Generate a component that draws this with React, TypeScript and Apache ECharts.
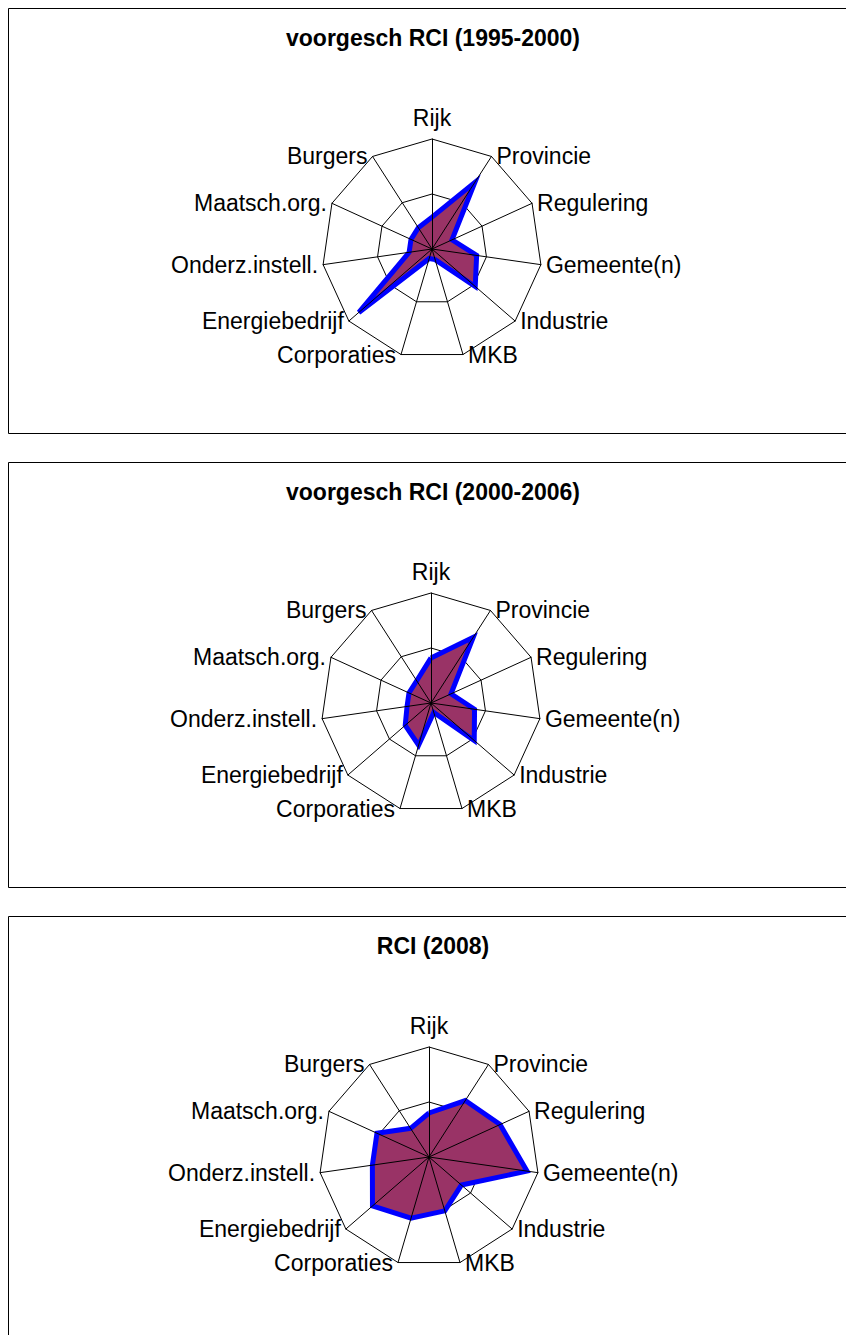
import React, { useEffect, useRef } from "react";
import * as echarts from "echarts";

// ---- data ----
const categories = [
  "Rijk",
  "Provincie",
  "Regulering",
  "Gemeente(n)",
  "Industrie",
  "MKB",
  "Corporaties",
  "Energiebedrijf",
  "Onderz.instell.",
  "Maatsch.org.",
  "Burgers",
];
const titles = ["voorgesch RCI (1995-2000)", "voorgesch RCI (2000-2006)", "RCI (2008)"];
const values1995 = [0.29, 0.72, 0.2, 0.41, 0.52, 0.1, 0.09, 0.88, 0.21, 0.21, 0.23];
const values2000 = [0.41, 0.71, 0.2, 0.4, 0.52, 0.09, 0.4, 0.31, 0.22, 0.22, 0.24];
const values2008 = [0.4, 0.61, 0.71, 0.9, 0.39, 0.51, 0.58, 0.68, 0.52, 0.52, 0.31];
const axisMax = 1;
const seriesValues = [values1995, values2000, values2008];

// ---- layout ----
const FONT = "'Liberation Sans', Arial, sans-serif";
const panelTops = [8, 462, 916];
const panelHeight = 425;
const centersX = [432, 431, 429];
const centerOffsetY = 241;
const titleOffsetY = 30;
const R = 110;

// ECharts places indicators counter-clockwise; reverse so they run clockwise
const reorder = <T,>(arr: T[]): T[] => [arr[0], ...arr.slice(1).reverse()];

export default function App() {
  const ref = useRef<HTMLDivElement>(null);
  useEffect(() => {
    if (!ref.current) return;
    const chart = echarts.init(ref.current, undefined, { renderer: "svg" });
    const indicator = reorder(categories).map((name) => ({ name, min: 0, max: axisMax }));

    const radar: any[] = [];
    const series: any[] = [];
    const graphic: any[] = [];
    seriesValues.forEach((vals, i) => {
      const cx = centersX[i];
      const cy = panelTops[i] + centerOffsetY;
      radar.push({
        indicator,
        center: [cx, cy],
        radius: R,
        startAngle: 90,
        splitNumber: 2,
        shape: "polygon",
        axisNameGap: 0,
        axisName: {
          color: "#000",
          fontSize: 23,
          fontFamily: FONT,
          padding: [10, 5, 10, 5],
        },
        axisLine: { show: false },
        splitLine: { lineStyle: { color: "#000", width: 1 } },
        splitArea: { show: false },
        z: 0,
      });
      radar.push({
        indicator,
        center: [cx, cy],
        radius: R,
        startAngle: 90,
        splitNumber: 2,
        shape: "polygon",
        axisName: { show: false },
        axisLine: { lineStyle: { color: "#000", width: 1 } },
        splitLine: { show: false },
        splitArea: { show: false },
        z: 3,
      });
      // filled area
      series.push({
        type: "radar",
        radarIndex: i * 2,
        z: 1,
        symbol: "none",
        lineStyle: { width: 0, opacity: 0 },
        areaStyle: { color: "#993366", opacity: 1 },
        data: [{ value: reorder(vals), name: titles[i] }],
      });
      // blue outline over the fill
      series.push({
        type: "radar",
        radarIndex: i * 2,
        z: 2,
        symbol: "none",
        lineStyle: { color: "#0000ff", width: 5, join: "miter" },
        data: [{ value: reorder(vals), name: titles[i] }],
      });
      graphic.push({
        type: "rect",
        silent: true,
        shape: { x: 8.5, y: panelTops[i] + 0.5, width: 900, height: panelHeight },
        style: { fill: "none", stroke: "#000", lineWidth: 1 },
      });
      graphic.push({
        type: "text",
        silent: true,
        x: 433,
        y: panelTops[i] + titleOffsetY,
        style: {
          text: titles[i],
          align: "center",
          verticalAlign: "middle",
          font: `bold 23px ${FONT}`,
          fill: "#000",
        },
      });
    });

    chart.setOption({
      animation: false,
      backgroundColor: "#fff",
      radar,
      series,
      graphic,
    });
    return () => chart.dispose();
  }, []);
  return (
    <div
      ref={ref}
      style={{ position: "absolute", left: 0, top: 0, width: 846, height: 1335 }}
    />
  );
}
